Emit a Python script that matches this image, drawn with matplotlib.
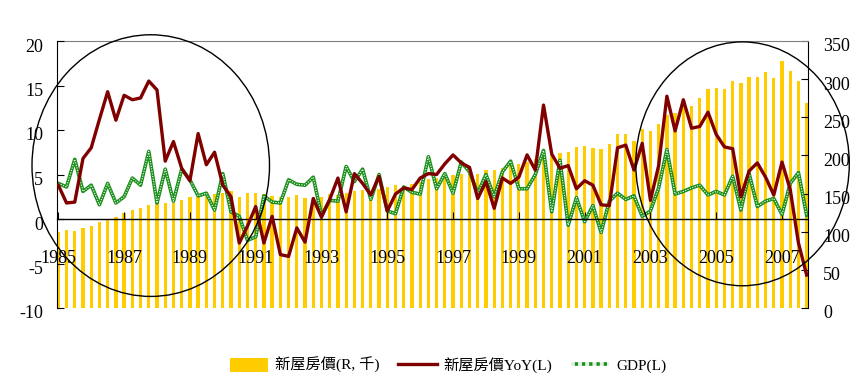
import numpy as np
import matplotlib
matplotlib.use("Agg")
import matplotlib.pyplot as plt
from matplotlib.patches import Ellipse
from matplotlib.lines import Line2D
from matplotlib.transforms import ScaledTranslation

plt.rcParams["axes.unicode_minus"] = False

# quarterly data, 1985Q1 - 2007Q4
price = [100, 102, 101, 105, 107, 113, 116, 119, 124, 128,
         131, 135, 137, 137, 138, 141, 145, 146, 147, 150,
         151, 153, 146, 151, 151, 150, 147, 145, 146, 148,
         144, 146, 145, 149, 148, 151, 153, 155, 153, 156,
         158, 161, 159, 163, 165, 169, 170, 171, 174, 176,
         176, 175, 181, 181, 184, 187, 189, 192, 195, 197,
         200, 203, 205, 211, 212, 210, 208, 215, 228, 228,
         219, 234, 232, 241, 253, 255, 270, 265, 275, 287,
         289, 287, 297, 295, 303, 303, 309, 301, 324, 311,
         298, 269]

price_yoy = [3.8, 1.8, 1.9, 6.8, 8.0, 11.2, 14.3, 11.1, 13.9, 13.4,
             13.6, 15.5, 14.5, 6.5, 8.7, 5.7, 4.3, 9.6, 6.1, 7.5,
             3.8, 2.5, -2.7, -0.8, 1.4, -2.7, 0.3, -4.0, -4.2, -1.0,
             -2.6, 2.3, 0.2, 2.2, 4.6, 0.8, 5.1, 4.0, 2.7, 4.8,
             0.9, 2.8, 3.5, 3.3, 4.6, 5.1, 5.0, 6.2, 7.2, 6.3,
             5.8, 2.3, 4.2, 1.2, 4.6, 4.0, 4.7, 7.2, 5.5, 12.8,
             7.3, 5.7, 6.0, 3.4, 4.3, 3.8, 1.6, 1.5, 8.0, 8.3,
             5.5, 8.5, 2.1, 6.0, 13.8, 9.9, 13.4, 10.2, 10.4, 12.0,
             9.5, 8.1, 7.9, 2.5, 5.4, 6.3, 4.7, 2.7, 6.4, 3.3,
             -2.7, -6.3]

gdp = [4.0, 3.6, 6.7, 3.1, 3.8, 1.6, 4.0, 1.8, 2.5, 4.6,
       3.8, 7.6, 1.8, 5.6, 2.0, 5.6, 4.4, 2.6, 2.9, 1.0,
       5.1, 0.8, 0.3, -2.4, -2.0, 2.6, 1.9, 1.8, 4.4, 3.9,
       3.8, 4.7, 0.4, 2.1, 2.0, 5.9, 4.2, 5.6, 2.2, 5.0,
       0.9, 0.6, 3.6, 3.0, 2.8, 7.0, 3.4, 5.1, 2.9, 6.4,
       5.3, 2.9, 5.0, 2.5, 5.3, 6.5, 3.4, 3.4, 5.0, 7.7,
       0.8, 6.6, -0.7, 2.4, -0.3, 1.5, -1.5, 2.0, 2.9, 2.2,
       2.6, 0.3, 0.9, 3.5, 7.8, 2.8, 3.1, 3.5, 3.8, 2.7,
       3.1, 2.7, 4.8, 1.0, 5.1, 1.4, 2.0, 2.3, 0.5, 4.0,
       5.2, 0.4]

year_ticks = list(range(1985, 2008, 2))
left_ticks = [-10, -5, 0, 5, 10, 15, 20]
right_ticks = [0, 50, 100, 150, 200, 250, 300, 350]

labels = ["新屋房價(R, 千)", "新屋房價YoY(L)", "GDP(L)"]

SERIF = "Liberation Serif"
FAM = ["Liberation Serif", "Noto Sans CJK TC"]
FS = 13
GREEN = "#1a8f1a"

x = 1985 + np.arange(len(price)) / 4.0
xlim = (1985 - 0.04, 2007.75 + 0.04)

fig = plt.figure(figsize=(8.65, 3.91), dpi=100)
ax = fig.add_axes([57 / 865, 1 - 308 / 391, (808 - 57) / 865, (308 - 41) / 391])
axb = ax.twinx()
ax.set_zorder(axb.get_zorder() + 1)
ax.patch.set_visible(False)

# bars on the right scale (drawn underneath)
bars = axb.bar(x, price, width=0.1, color="#FFCC00", zorder=1)
axb.set_ylim(0, 350)
axb.set_yticks(right_ticks)
axb.tick_params(axis="y", direction="in", length=5, pad=11, labelsize=FS)
for s in ["bottom", "left"]:
    axb.spines[s].set_visible(False)
axb.spines["top"].set_color("#808080")
axb.spines["right"].set_color("black")

# lines on the left scale
line_yoy, = ax.plot(x, price_yoy, color="#800000", lw=2.4, zorder=3)
ax.plot(x, gdp, color=GREEN, lw=2.6, zorder=2)
ax.plot(x, gdp, color="white", lw=0.8, ls=(0, (1, 1.3)), zorder=2.5)
ax.set_ylim(-10, 20)
ax.set_xlim(xlim)
ax.set_yticks(left_ticks)
ax.tick_params(axis="y", direction="in", length=5, pad=10, labelsize=FS)
ax.spines["bottom"].set_position(("data", 0))
ax.spines["bottom"].set_color("black")
ax.spines["bottom"].set_linewidth(1.0)
ax.spines["left"].set_color("black")
ax.spines["top"].set_visible(False)
ax.spines["right"].set_visible(False)
ax.set_xticks(year_ticks)
ax.set_xticklabels([str(y) for y in year_ticks])
ax.tick_params(axis="x", direction="in", length=5, pad=22, labelsize=FS)

for lab in axb.get_yticklabels() + ax.get_yticklabels() + ax.get_xticklabels():
    lab.set_fontfamily(SERIF)
shift = ScaledTranslation(0, -0.04, fig.dpi_scale_trans)
for lab in axb.get_yticklabels() + ax.get_yticklabels():
    lab.set_transform(lab.get_transform() + shift)

# highlight circles
for cx, cy, w, h in [(1987.81, 6.0, 7.22, 29.4), (2005.80, 6.2, 6.49, 27.4)]:
    ax.add_patch(Ellipse((cx, cy), w, h, fill=False, edgecolor="black",
                         lw=1.0, clip_on=False, zorder=4))

gdp_proxy = Line2D([], [], color="#dff0df", gapcolor=GREEN, lw=2.6, ls=(0, (1, 1)))
legend_handles = [bars.patches[0], line_yoy, gdp_proxy]
fig.legend(legend_handles, labels, loc="center", bbox_to_anchor=(0.518, 0.066),
           ncol=3, frameon=False, handlelength=2.5, handleheight=1.0,
           handletextpad=0.45, columnspacing=1.25,
           prop={"family": FAM, "size": 11})

fig.savefig("out.png", dpi=100)
